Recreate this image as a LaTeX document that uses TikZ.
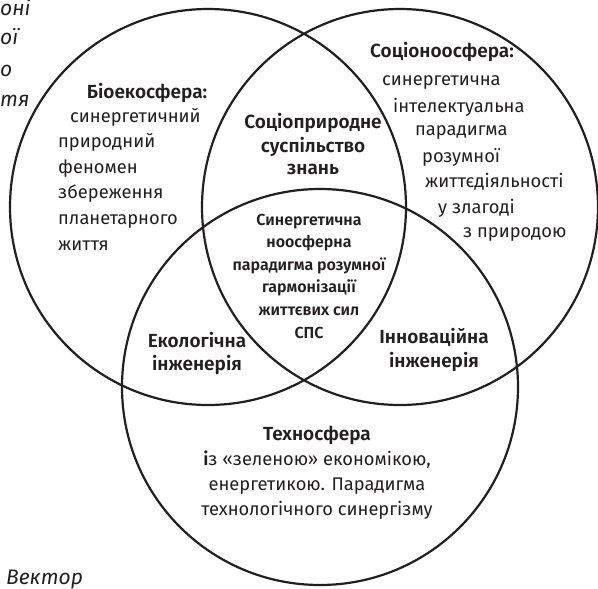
\documentclass[tikz,border=0pt]{standalone}
\usepackage{fontspec}
\setmainfont{Fira Sans}[BoldFont={Fira Sans SemiBold}]
\definecolor{ink}{HTML}{231F20}
\begin{document}
\begin{tikzpicture}[x=1pt,y=-1pt,
  ring/.style={circle, draw=ink, line width=2.2pt, minimum size=396pt, inner sep=0pt},
  txt/.style={font=\fontsize{18.3}{22}\selectfont, text=ink, inner sep=0pt},
  head/.style={font=\fontsize{19}{22}\selectfont\bfseries, text=ink, inner sep=0pt},
  core/.style={font=\fontsize{16}{19}\selectfont\bfseries, text=ink, inner sep=0pt},
  cut/.style={font=\fontsize{21}{24}\selectfont\itshape, text=ink, inner sep=0pt}]
\useasboundingbox (0,0) rectangle (598,589);
\clip (0,0) rectangle (598,589);

% three spheres
\node[ring] (bio)  at (208,207) {};
\node[ring] (noo)  at (400,207) {};
\node[ring] (tech) at (320,387) {};

% surrounding paragraph fragments
\node[cut, anchor=base west] (f1) at (0,16)  {оні};
\node[cut, anchor=base west] (f2) at (0,45)  {ої};
\node[cut, anchor=base west] (f3) at (0,76)  {о};
\node[cut, anchor=base west] (f4) at (0,106) {тя};
\node[cut, anchor=base west] (f5) at (6,584) {Вектор};

% biosphere
\node[head, anchor=base] (bioh) at (147,98) {Біоекосфера:};
\node[txt, anchor=base west] (b1) at (70,122) {синергетичний};
\node[txt, anchor=base west] (b2) at (58,147) {природний};
\node[txt, anchor=base west] (b3) at (58,173) {феномен};
\node[txt, anchor=base west] (b4) at (58,198) {збереження};
\node[txt, anchor=base west] (b5) at (58,224) {планетарного};
\node[txt, anchor=base west] (b6) at (58,250) {життя};

% noosphere
\node[head, anchor=base west] (nooh) at (370,57) {Соціоноосфера:};
\node[txt, anchor=base west] (n1) at (382,85)  {синергетична};
\node[txt, anchor=base west] (n2) at (393,112) {інтелектуальна};
\node[txt, anchor=base west] (n3) at (415,135) {парадигма};
\node[txt, anchor=base west] (n4) at (422,162) {розумної};
\node[txt, anchor=base west] (n5) at (425,187) {життєдіяльності};
\node[txt, anchor=base west] (n6) at (438,213) {у злагоді};
\node[txt, anchor=base west] (n7) at (463,237) {з природою};

% pairwise overlaps
\node[head, anchor=base] (s1) at (313,128) {Соціоприродне};
\node[head, anchor=base] (s2) at (313,152) {суспільство};
\node[head, anchor=base] (s3) at (313,174) {знань};

\node[head, anchor=base] (e1) at (197,347) {Екологічна};
\node[head, anchor=base] (e2) at (197,370) {інженерія};

\node[head, anchor=base] (i1) at (434,343) {Інноваційна};
\node[head, anchor=base] (i2) at (434,367) {інженерія};

% common core
\node[core, anchor=base] (c1) at (309,225) {Синергетична};
\node[core, anchor=base] (c2) at (309,247) {ноосферна};
\node[core, anchor=base] (c3) at (309,270) {парадигма розумної};
\node[core, anchor=base] (c4) at (309,292) {гармонізації};
\node[core, anchor=base] (c5) at (309,315) {життєвих сил};
\node[core, anchor=base] (c6) at (309,338) {СПС};

% technosphere
\node[head, anchor=base] (th) at (317,440) {Техносфера};
\node[txt, anchor=base] (t1) at (317,465) {\textbf{і}з «зеленою» економікою,};
\node[txt, anchor=base] (t2) at (317,490) {енергетикою. Парадигма};
\node[txt, anchor=base] (t3) at (317,515) {технологічного синергізму};
\end{tikzpicture}
\end{document}
